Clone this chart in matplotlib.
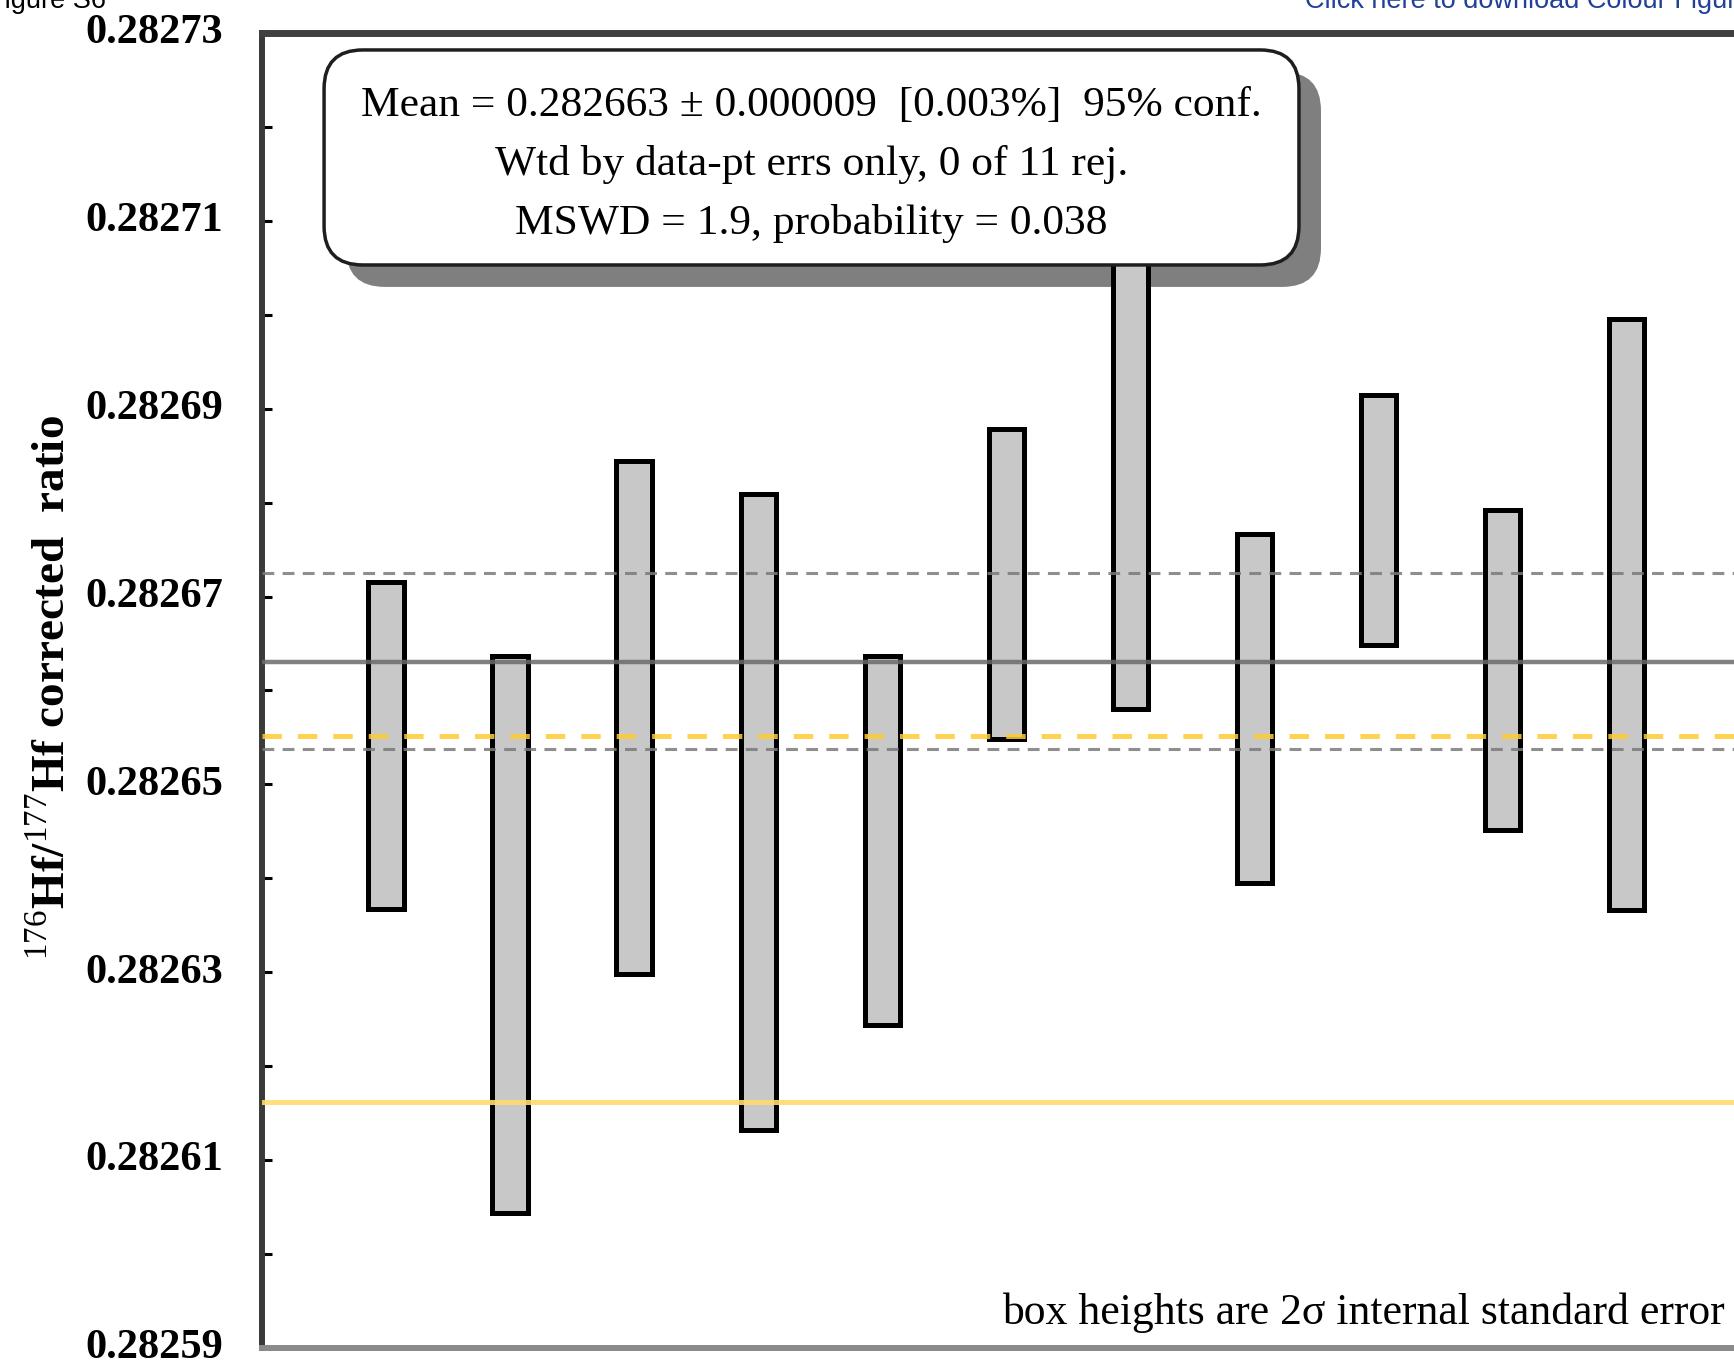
# Weighted mean plot of 176Hf/177Hf corrected ratios (Isoplot style)
# Writes: out.png

import matplotlib
matplotlib.use("Agg")
import matplotlib.pyplot as plt
from matplotlib.patches import FancyBboxPatch
from matplotlib.ticker import MultipleLocator
from matplotlib.transforms import ScaledTranslation

# ---------- DATA ----------
grain = [1, 2, 3, 4, 5, 6, 7, 8, 9, 10, 11]
ratio_upper = [0.2826715, 0.2826637, 0.2826844, 0.2826809, 0.2826637, 0.2826878,
               0.282712, 0.2826767, 0.2826915, 0.2826792, 0.2826996]
ratio_lower = [0.2826367, 0.2826044, 0.2826298, 0.2826132, 0.2826244, 0.2826548,
               0.282658, 0.2826395, 0.2826648, 0.2826451, 0.2826366]

mean_val = 0.282663
band_upper = 0.2826725   # grey dashed, mean + err
band_lower = 0.2826538   # grey dashed, mean - err
ref_dashed = 0.2826552   # yellow dashed
ref_solid = 0.2826162    # yellow solid

y_tick_vals = [0.28259, 0.28261, 0.28263, 0.28265, 0.28267, 0.28269, 0.28271, 0.28273]
y_tick_labels = ["0.28259", "0.28261", "0.28263", "0.28265", "0.28267", "0.28269",
                 "0.28271", "0.28273"]

box_lines = [
    "Mean = 0.282663 \u00b1 0.000009  [0.003%]  95% conf.",
    "Wtd by data-pt errs only, 0 of 11 rej.",
    "MSWD = 1.9, probability = 0.038",
]

# ---------- STYLE ----------
plt.rcParams["font.family"] = ["Liberation Serif", "DejaVu Serif"]
plt.rcParams["mathtext.fontset"] = "custom"
plt.rcParams["mathtext.rm"] = "Liberation Serif"
plt.rcParams["lines.scale_dashes"] = False

W, H = 1734, 1362
fig = plt.figure(figsize=(W / 100, H / 100), dpi=100)
# axes runs a little past the right edge, as in the cropped original
ax = fig.add_axes([262 / W, 14 / H, 1488.6 / W, 1315 / H])

ax.set_xlim(0, 12)
ax.set_ylim(0.28259, 0.28273)

# ---------- BOXES ----------
heights = [u - l for u, l in zip(ratio_upper, ratio_lower)]
ax.bar(grain, heights, bottom=ratio_lower, width=0.285, color="#c8c8c8",
       edgecolor="black", linewidth=3.6, zorder=2)

# ---------- REFERENCE LINES ----------
ax.axhline(mean_val, color="#6a6a6a", linewidth=3.2, alpha=0.85, zorder=3)
for v in (band_upper, band_lower):
    ln = ax.axhline(v, color="#7a7a7a", linewidth=2.2, alpha=0.85, zorder=3)
    ln.set_dashes((8.5, 6.0))
ln = ax.axhline(ref_dashed, color="#ffcc33", linewidth=3.6, alpha=0.85, zorder=3)
ln.set_dashes((14.0, 11.5))
ax.axhline(ref_solid, color="#ffdc6e", linewidth=3.6, alpha=0.9, zorder=3)

# ---------- AXES ----------
ax.set_yticks(y_tick_vals, y_tick_labels, fontweight="bold", fontsize=30.5)
ax.yaxis.set_minor_locator(MultipleLocator(0.00001))
ax.tick_params(axis="y", which="both", direction="in", color="black",
               width=2.2, length=7, pad=28)
ax.set_xticks([])
# labels sit a few pixels above their ticks in the original
lift = ScaledTranslation(0, 3 / 72, fig.dpi_scale_trans)
for lab in ax.get_yticklabels():
    lab.set_transform(lab.get_transform() + lift)

ax.spines["left"].set_linewidth(4.3)
ax.spines["left"].set_color("#3a3a3a")
ax.spines["top"].set_linewidth(5.0)
ax.spines["top"].set_color("#404040")
ax.spines["bottom"].set_linewidth(4.3)
ax.spines["bottom"].set_color("#8a8a8a")
ax.spines["right"].set_visible(False)

ax.text(-0.1405, 0.502, r"$^{176}$Hf/$^{177}$Hf corrected  ratio",
        transform=ax.transAxes, rotation=90, ha="center", va="center",
        fontsize=34, fontweight="bold")

# ---------- RESULT BOX ----------
bx0, bx1 = 0.0417, 0.6966
by0, by1 = 0.8236, 0.9871
aspect = 1488.6 / 1315
shadow = FancyBboxPatch((bx0 + 0.0148, by0 - 0.0167), bx1 - bx0, by1 - by0,
                        boxstyle="round,pad=0,rounding_size=0.026",
                        mutation_aspect=aspect, transform=ax.transAxes,
                        facecolor="#7f7f7f", edgecolor="none", zorder=1.5)
ax.add_patch(shadow)
box = FancyBboxPatch((bx0, by0), bx1 - bx0, by1 - by0,
                     boxstyle="round,pad=0,rounding_size=0.026",
                     mutation_aspect=aspect, transform=ax.transAxes,
                     facecolor="white", edgecolor="#1e1e1e", linewidth=2.5, zorder=4)
ax.add_patch(box)

for txt, yy in zip(box_lines, [0.9369, 0.8920, 0.8475]):
    ax.text((bx0 + bx1) / 2, yy, txt, transform=ax.transAxes, ha="center",
            va="baseline", fontsize=31.3, zorder=5)

ax.text(0.9828, 0.01825, "box heights are 2\u03c3 internal standard error",
        transform=ax.transAxes, ha="right", va="baseline", fontsize=31.5)

# ---------- PAGE HEADER (cut off in the original) ----------
fig.text(-12 / W, 1 - 8 / H, "Figure S6", family="Liberation Sans",
         fontsize=19.5, va="baseline", color="black")
fig.text(1305 / W, 1 - 8 / H, "Click here to download Colour Figure",
         family="Liberation Sans", fontsize=19.5, va="baseline", color="#20409a")

fig.savefig("out.png", dpi=100)
plt.close(fig)
print("[OK] saved out.png")
